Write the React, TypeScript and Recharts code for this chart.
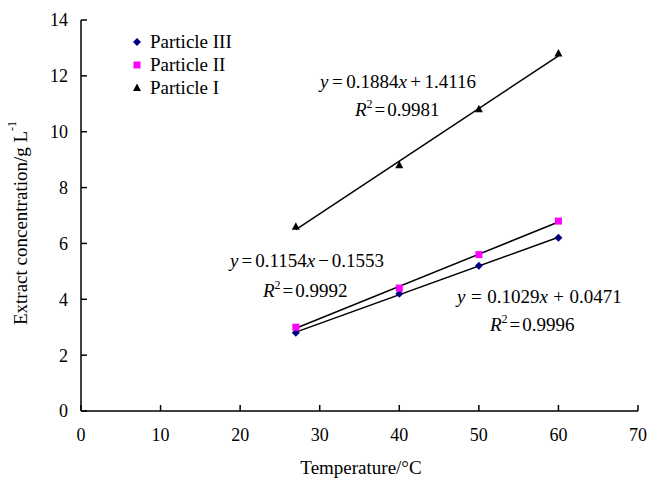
import { Customized, Scatter, ScatterChart, XAxis, YAxis } from "recharts";

const temperatures = [27, 40, 50, 60];
const particleIII = [2.8, 4.2, 5.2, 6.2];
const particleII = [3.0, 4.4, 5.6, 6.8];
const particleI = [6.6, 8.8, 10.8, 12.8];

const seriesNames = ["Particle III", "Particle II", "Particle I"];
const fitSlopes = [0.1029, 0.1154, 0.1884];
const fitIntercepts = [0.0471, -0.1553, 1.4116];
const fitRange = [27, 60];

const xTicks = [0, 10, 20, 30, 40, 50, 60, 70];
const yTicks = [0, 2, 4, 6, 8, 10, 12, 14];

const FONT = "Liberation Serif";

const toPoints = (ys: number[]) => temperatures.map((x, i) => ({ x, y: ys[i] }));
const fitPoints = (i: number) =>
  fitRange.map((x) => ({ x, y: fitSlopes[i] * x + fitIntercepts[i] }));

const Diamond = ({ cx, cy }: any) => (
  <polygon points={`${cx},${cy - 4} ${cx + 4},${cy} ${cx},${cy + 4} ${cx - 4},${cy}`} fill="#000080" />
);
const Square = ({ cx, cy }: any) => (
  <rect x={cx - 3.5} y={cy - 3.5} width={7} height={7} fill="#FF00FF" />
);
const Triangle = ({ cx, cy }: any) => (
  <polygon points={`${cx},${cy - 4.5} ${cx + 4},${cy + 3} ${cx - 4},${cy + 3}`} fill="#000" />
);
const NoDot = () => <g />;

const markers = [Diamond, Square, Triangle];

function Equation({ x, y, slope, intercept, gap }: { x: number; y: number; slope: string; intercept: string; gap: number }) {
  const neg = intercept.startsWith("-");
  return (
    <text x={x} y={y} fontFamily={FONT} fontSize={19} fill="#000">
      <tspan fontStyle="italic">y</tspan>
      <tspan dx={gap}>=</tspan>
      <tspan dx={gap}>{slope}</tspan>
      <tspan fontStyle="italic">x</tspan>
      <tspan dx={gap}>{neg ? "\u2212" : "+"}</tspan>
      <tspan dx={gap}>{neg ? intercept.slice(1) : intercept}</tspan>
    </text>
  );
}

function RSquared({ x, y, value }: { x: number; y: number; value: string }) {
  return (
    <text x={x} y={y} fontFamily={FONT} fontSize={19} fill="#000">
      <tspan fontStyle="italic">R</tspan>
      <tspan fontSize={12} dy={-8}>2</tspan>
      <tspan dy={8} dx={2}>=</tspan>
      <tspan dx={2}>{value}</tspan>
    </text>
  );
}

function Annotations() {
  return (
    <g fontFamily={FONT}>
      <text x={20} y={223} transform="rotate(-90 20 223)" textAnchor="middle" dominantBaseline="central"
        fontFamily={FONT} fontSize={19} fill="#000">
        Extract concentration/g L<tspan fontSize={12} dy={-8}>-1</tspan>
      </text>
      <text x={361} y={474} textAnchor="middle" fontFamily={FONT} fontSize={19} fill="#000">
        Temperature/°C
      </text>

      {seriesNames.map((name, i) => {
        const M = markers[i];
        const cy = 42 + i * 23;
        return (
          <g key={name}>
            <M cx={137} cy={cy} />
            <text x={150} y={cy + 6} fontFamily={FONT} fontSize={19} fill="#000">{name}</text>
          </g>
        );
      })}

      <Equation x={320} y={88} slope="0.1884" intercept="1.4116" gap={3.5} />
      <RSquared x={355} y={116} value="0.9981" />
      <Equation x={230} y={267} slope="0.1154" intercept="-0.1553" gap={3} />
      <RSquared x={263} y={297} value="0.9992" />
      <Equation x={457} y={303} slope="0.1029" intercept="0.0471" gap={5.5} />
      <RSquared x={490} y={331} value="0.9996" />
    </g>
  );
}

export default function App() {
  const tick = { fill: "#000", fontSize: 18, fontFamily: FONT };
  const series = [particleIII, particleII, particleI];
  return (
    <div style={{ position: "absolute", left: 0, top: 0, background: "#fff", fontFamily: FONT }}>
      <ScatterChart width={661} height={482} margin={{ top: 20, right: 23, bottom: 21, left: 21 }}
        style={{ fontFamily: FONT }}>
        <XAxis
          type="number"
          dataKey="x"
          domain={[0, 70]}
          ticks={xTicks}
          height={50}
          tick={tick}
          tickSize={-6}
          tickMargin={23}
          axisLine={{ stroke: "#000", strokeWidth: 1.5 }}
          tickLine={{ stroke: "#000", strokeWidth: 1.5 }}
        />
        <YAxis
          type="number"
          dataKey="y"
          domain={[0, 14]}
          ticks={yTicks}
          width={60}
          tick={tick}
          tickSize={-6}
          tickMargin={19}
          axisLine={{ stroke: "#000", strokeWidth: 1.5 }}
          tickLine={{ stroke: "#000", strokeWidth: 1.5 }}
        />
        {series.map((_, i) => (
          <Scatter
            key={`fit-${i}`}
            data={fitPoints(i)}
            line={{ stroke: "#000", strokeWidth: 1.5 }}
            shape={NoDot}
            legendType="none"
            isAnimationActive={false}
          />
        ))}
        {series.map((ys, i) => (
          <Scatter
            key={seriesNames[i]}
            name={seriesNames[i]}
            data={toPoints(ys)}
            shape={markers[i]}
            isAnimationActive={false}
          />
        ))}
        <Customized component={Annotations} />
      </ScatterChart>
    </div>
  );
}
